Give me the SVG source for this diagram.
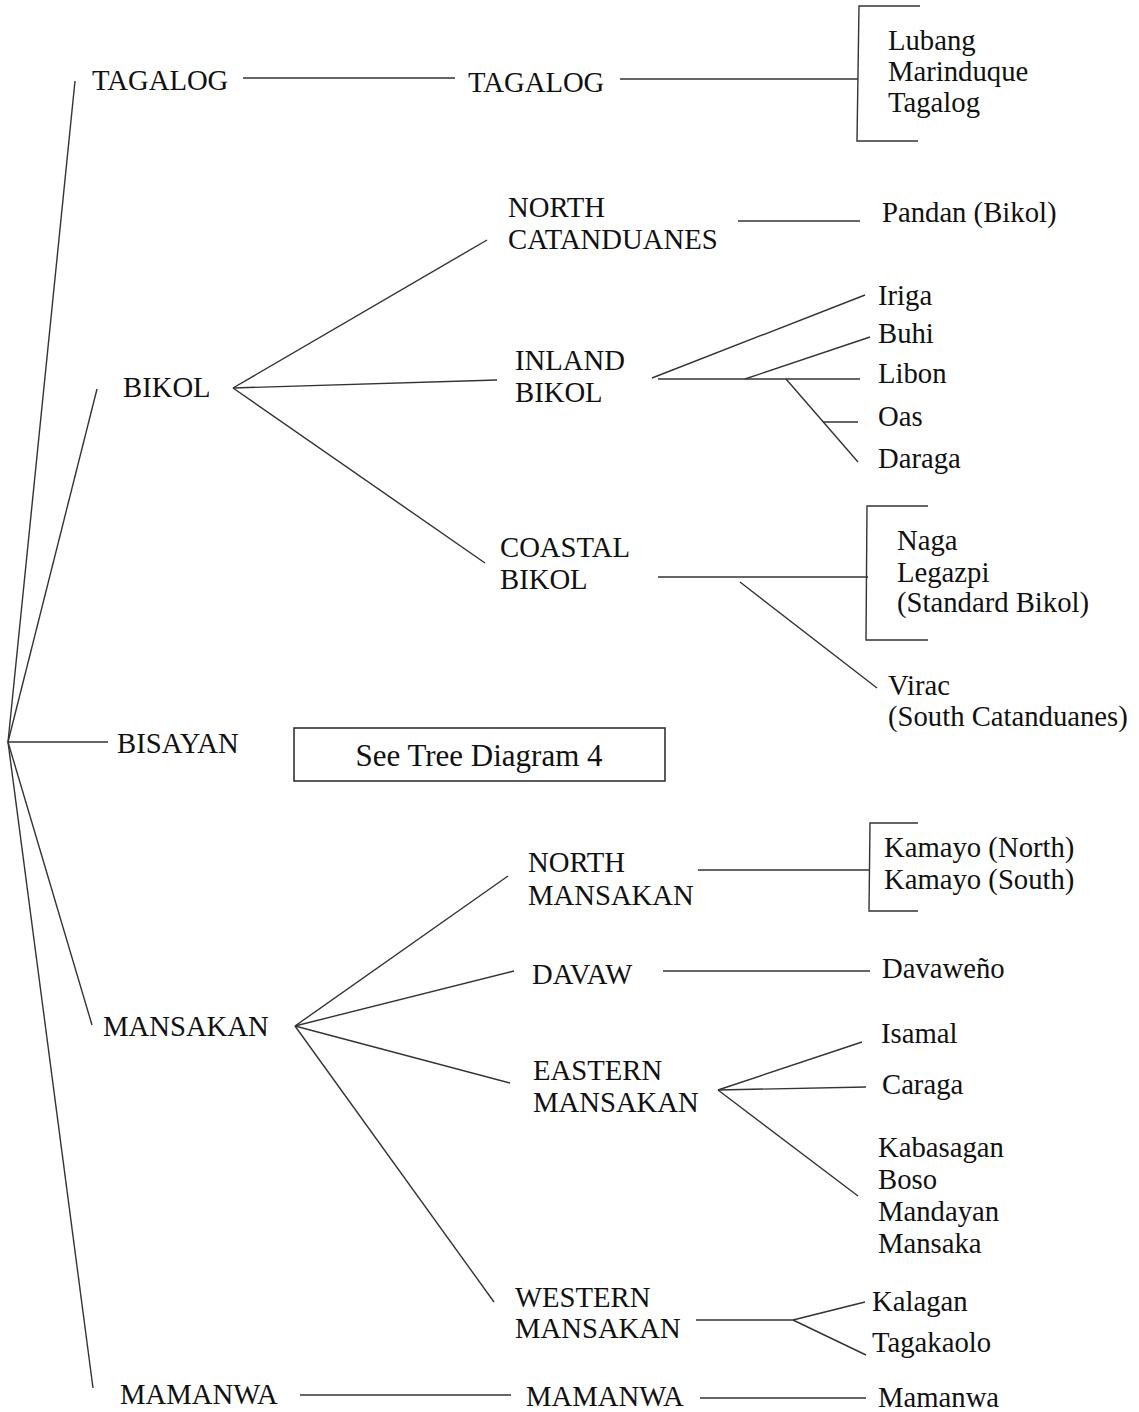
<svg xmlns="http://www.w3.org/2000/svg" width="1139" height="1412" viewBox="0 0 1139 1412">
<style>
text{font-family:"Liberation Serif","Times New Roman",serif;font-size:28.7px;fill:#111}
.c line,.c polyline{stroke:#333;stroke-width:1.4;fill:none}
.box{fill:none;stroke:#333;stroke-width:1.6}
.big{font-size:31px}
</style>
<rect width="1139" height="1412" fill="#fff"/>
<g class="c" id="connectors">
<line x1="8" y1="742" x2="75" y2="81"/>
<line x1="8" y1="742" x2="97" y2="389"/>
<line x1="8" y1="742" x2="108" y2="742"/>
<line x1="8" y1="742" x2="92" y2="1025"/>
<line x1="8" y1="742" x2="93" y2="1388"/>
<line x1="243" y1="78" x2="455" y2="78"/>
<line x1="620" y1="79" x2="858" y2="79"/>
<polyline points="920,6 859,6 857,141 918,141"/>
<line x1="233" y1="388" x2="487" y2="240"/>
<line x1="233" y1="388" x2="497" y2="380"/>
<line x1="233" y1="388" x2="485" y2="563"/>
<line x1="738" y1="221" x2="860" y2="221"/>
<line x1="652" y1="378" x2="865" y2="295"/>
<line x1="658" y1="379" x2="860" y2="379"/>
<line x1="745" y1="379" x2="870" y2="337"/>
<line x1="786" y1="379" x2="858" y2="462"/>
<line x1="823" y1="422" x2="858" y2="422"/>
<line x1="658" y1="577" x2="868" y2="577"/>
<polyline points="928,506 867,506 866,640 928,640"/>
<line x1="740" y1="582" x2="877" y2="688"/>
<line x1="295" y1="1026" x2="508" y2="876"/>
<line x1="295" y1="1026" x2="514" y2="971"/>
<line x1="295" y1="1026" x2="510" y2="1083"/>
<line x1="295" y1="1026" x2="494" y2="1302"/>
<line x1="698" y1="870" x2="870" y2="870"/>
<polyline points="918,823 870,823 869,911 918,911"/>
<line x1="663" y1="971" x2="870" y2="971"/>
<line x1="718" y1="1090" x2="862" y2="1042"/>
<line x1="718" y1="1090" x2="866" y2="1087"/>
<line x1="718" y1="1090" x2="858" y2="1196"/>
<line x1="696" y1="1320" x2="793" y2="1320"/>
<line x1="793" y1="1320" x2="865" y2="1302"/>
<line x1="793" y1="1320" x2="866" y2="1355"/>
<line x1="300" y1="1395" x2="511" y2="1395"/>
<line x1="700" y1="1398" x2="866" y2="1398"/>
</g>
<g id="n-tagalog1"><text x="92" y="90">TAGALOG</text></g>
<g id="n-tagalog2"><text x="468" y="92">TAGALOG</text></g>
<g id="n-tagalog-leaves"><text x="888" y="50">Lubang</text><text x="888" y="81">Marinduque</text><text x="888" y="112">Tagalog</text></g>
<g id="n-bikol"><text x="123" y="397">BIKOL</text></g>
<g id="n-northcat"><text x="508" y="217">NORTH</text><text x="508" y="249">CATANDUANES</text></g>
<g id="n-pandan"><text x="882" y="222">Pandan (Bikol)</text></g>
<g id="n-inland"><text x="515" y="370">INLAND</text><text x="515" y="402">BIKOL</text></g>
<g id="n-iriga"><text x="878" y="305">Iriga</text></g>
<g id="n-buhi"><text x="878" y="343">Buhi</text></g>
<g id="n-libon"><text x="878" y="383">Libon</text></g>
<g id="n-oas"><text x="878" y="426">Oas</text></g>
<g id="n-daraga"><text x="878" y="468">Daraga</text></g>
<g id="n-coastal"><text x="500" y="557">COASTAL</text><text x="500" y="589">BIKOL</text></g>
<g id="n-naga"><text x="897" y="550">Naga</text><text x="897" y="582">Legazpi</text><text x="897" y="612">(Standard Bikol)</text></g>
<g id="n-virac"><text x="888" y="695">Virac</text><text x="888" y="726">(South Catanduanes)</text></g>
<g id="n-bisayan"><text x="117" y="753">BISAYAN</text></g>
<g id="n-see"><rect class="box" x="294" y="728" width="371" height="53"/><text class="big" x="479" y="766" text-anchor="middle">See Tree Diagram 4</text></g>
<g id="n-mansakan"><text x="103" y="1036">MANSAKAN</text></g>
<g id="n-northman"><text x="528" y="872">NORTH</text><text x="528" y="905">MANSAKAN</text></g>
<g id="n-kamayo"><text x="884" y="857">Kamayo (North)</text><text x="884" y="889">Kamayo (South)</text></g>
<g id="n-davaw"><text x="532" y="984">DAVAW</text></g>
<g id="n-davaweno"><text x="882" y="978">Davaweño</text></g>
<g id="n-eastern"><text x="533" y="1080">EASTERN</text><text x="533" y="1112">MANSAKAN</text></g>
<g id="n-isamal"><text x="881" y="1043">Isamal</text></g>
<g id="n-caraga"><text x="882" y="1094">Caraga</text></g>
<g id="n-kabasagan"><text x="878" y="1157">Kabasagan</text><text x="878" y="1189">Boso</text><text x="878" y="1221">Mandayan</text><text x="878" y="1253">Mansaka</text></g>
<g id="n-western"><text x="515" y="1307">WESTERN</text><text x="515" y="1338">MANSAKAN</text></g>
<g id="n-kalagan"><text x="872" y="1311">Kalagan</text></g>
<g id="n-tagakaolo"><text x="872" y="1352">Tagakaolo</text></g>
<g id="n-mamanwa1"><text x="120" y="1404">MAMANWA</text></g>
<g id="n-mamanwa2"><text x="526" y="1406">MAMANWA</text></g>
<g id="n-mamanwa3"><text x="878" y="1407">Mamanwa</text></g>
</svg>
